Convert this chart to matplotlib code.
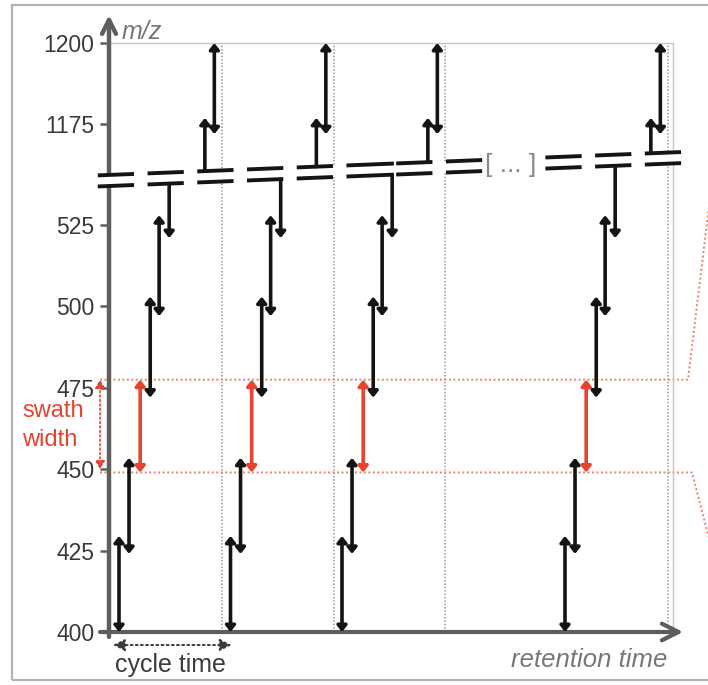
import matplotlib.pyplot as plt
from matplotlib.patches import Rectangle, Polygon

plt.rcParams['font.family'] = ['Liberation Sans', 'DejaVu Sans']

# cycles that are drawn (cycle 3 is left out and shown as "[ ... ]")
cycle_starts = [0, 1, 2, 4]
# isolation windows inside one cycle (None = window runs into the axis break)
window_offsets = [0.0, 0.09, 0.19, 0.28, 0.36, 0.45, 0.77, 0.855]
window_low = [400, 424, 449, 472, 497, 521, None, 1172]
window_high = [429.5, 453.5, 477.5, 503, 528, None, 1177, 1200]
swath_window = 2

ytick_values = [400, 425, 450, 475, 500, 525, 1175, 1200]

BLACK = '#141414'
RED = '#e8432e'
LIGHTRED = '#ee7f6e'
AXIS = '#5e5e5e'

# axis break (slanted double line)
break_y0 = 538.8
break_slope = 1.37
break_gap = 1.7


def ymap(mz):
    # m/z above the break is moved down so it sits just over the 525 region
    return mz - 619.1 if mz > 800 else mz


def break_center(t):
    return break_y0 + break_slope * t


fig = plt.figure(figsize=(7.08, 6.85), dpi=100)
ax = fig.add_axes([109 / 708, 53 / 685, 564 / 708, 589 / 685])
x0, x1 = -0.0897, 4.9686
ax.set_xlim(x0, x1)
ax.set_ylim(400, ymap(1200))

# outer frame
fig.patches.append(Rectangle((12 / 708, 5 / 685), 1.0, 675 / 685, transform=fig.transFigure,
                             fill=False, edgecolor='#b4b4b4', lw=1.6))

for s in ['left', 'bottom']:
    ax.spines[s].set_visible(False)
for s in ['top', 'right']:
    ax.spines[s].set_color('#c6c6c6')
    ax.spines[s].set_linewidth(1.0)

ax.set_xticks([])
ax.set_yticks([ymap(v) for v in ytick_values], labels=[str(v) for v in ytick_values])
ax.tick_params(axis='y', length=6.5, width=1.8, color=AXIS, labelsize=16.5,
               labelcolor='#3a3a3a', pad=4)

# cycle boundaries
for c in cycle_starts:
    tb = c + 1 - 0.075
    ax.plot([tb, tb], [400, ymap(1200)], color='#9a9a9a', lw=1.1, ls=(0, (1, 1.2)), zorder=1)

# axes arrows
ax.annotate('', xy=(x0, 589.5), xytext=(x0, 398.5),
            arrowprops=dict(arrowstyle='->,head_length=1.0,head_width=0.5', lw=3.2,
                            color=AXIS, shrinkA=0, shrinkB=0),
            annotation_clip=False, zorder=3)
ax.annotate('', xy=(5.06, 400), xytext=(-0.17, 400),
            arrowprops=dict(arrowstyle='->,head_length=1.2,head_width=0.6', lw=3.0,
                            color=AXIS, shrinkA=0, shrinkB=0),
            annotation_clip=False, zorder=3)

# swath width guides
sw_lo = window_low[swath_window]
sw_hi = window_high[swath_window]
ax.plot([-0.17, 5.103, 5.32], [sw_hi, sw_hi, 538.8], color=LIGHTRED, lw=1.4,
        ls=(0, (1, 1.3)), clip_on=False, zorder=2)
ax.plot([-0.17, 5.139, 5.32], [sw_lo, sw_lo, 425], color=LIGHTRED, lw=1.4,
        ls=(0, (1, 1.3)), clip_on=False, zorder=2)
ax.annotate('', xy=(-0.17, sw_hi), xytext=(-0.17, sw_lo + 1),
            arrowprops=dict(arrowstyle='<|-|>,head_length=0.5,head_width=0.3', lw=1.2,
                            ls=':', color=RED, shrinkA=0, shrinkB=0),
            annotation_clip=False)
ax.text(-0.87, 466.1, 'swath', color=RED, fontsize=17, ha='left', va='baseline')
ax.text(-0.87, 457.0, 'width', color=RED, fontsize=17, ha='left', va='baseline')

# white band that cuts the axis at the break
tb0, tb1 = -0.25, 5.0
ax.add_patch(Polygon([(tb0, break_center(tb0) - break_gap), (tb1, break_center(tb1) - break_gap),
                      (tb1, break_center(tb1) + break_gap), (tb0, break_center(tb0) + break_gap)],
                     closed=True, facecolor='white', edgecolor='none', clip_on=False, zorder=4))

# break dashes (stretched a little where a window meets the break)
junctions = [c + window_offsets[i] for c in cycle_starts for i in (5, 6)]
dash_len = 0.325
for k in range(12):
    if k == 8:
        continue
    s = -0.19 + 0.446 * k
    e = s + dash_len
    for tj in junctions:
        if e < tj < e + 0.12:
            e = tj + 0.015
    ts = [s, e]
    for sign in (-1, 1):
        ax.plot(ts, [break_center(t) + sign * break_gap for t in ts], color=BLACK, lw=2.8,
                solid_capstyle='butt', clip_on=False, zorder=5)

ax.text(3.516, break_center(3.516) - 0.3, '[ ... ]', color='#8a8a8a', fontsize=19,
        ha='center', va='center', zorder=6)

# isolation windows
for c in cycle_starts:
    for i in range(len(window_offsets)):
        t = c + window_offsets[i]
        lo, hi = window_low[i], window_high[i]
        col = RED if i == swath_window else BLACK
        if lo is None:
            y0, y1, style = break_center(t) + break_gap, ymap(hi), '-|>'
        elif hi is None:
            y0, y1, style = ymap(lo), break_center(t) - break_gap, '<|-'
        else:
            y0, y1, style = ymap(lo), ymap(hi), '<|-|>'
        ax.annotate('', xy=(t, y1), xytext=(t, y0),
                    arrowprops=dict(arrowstyle=style + ',head_length=0.35,head_width=0.28',
                                    lw=2.6, color=col, shrinkA=0, shrinkB=0),
                    annotation_clip=False, zorder=7)

# cycle time
ax.annotate('', xy=(1.01, 396), xytext=(-0.054, 396),
            arrowprops=dict(arrowstyle='<|-|>,head_length=0.7,head_width=0.35', lw=1.4,
                            ls=':', color='#3c3c3c', shrinkA=0, shrinkB=0),
            annotation_clip=False)
ax.text(0.457, 387.7, 'cycle time', color='#3c3c3c', fontsize=18, ha='center', va='baseline')

ax.text(0.027, 582, 'm/z', color='#777777', fontsize=18, style='italic', ha='left', va='baseline')
ax.text(4.92, 389.25, 'retention time', color='#777777', fontsize=18.5, style='italic',
        ha='right', va='baseline')

fig.savefig('out.png', dpi=100)
